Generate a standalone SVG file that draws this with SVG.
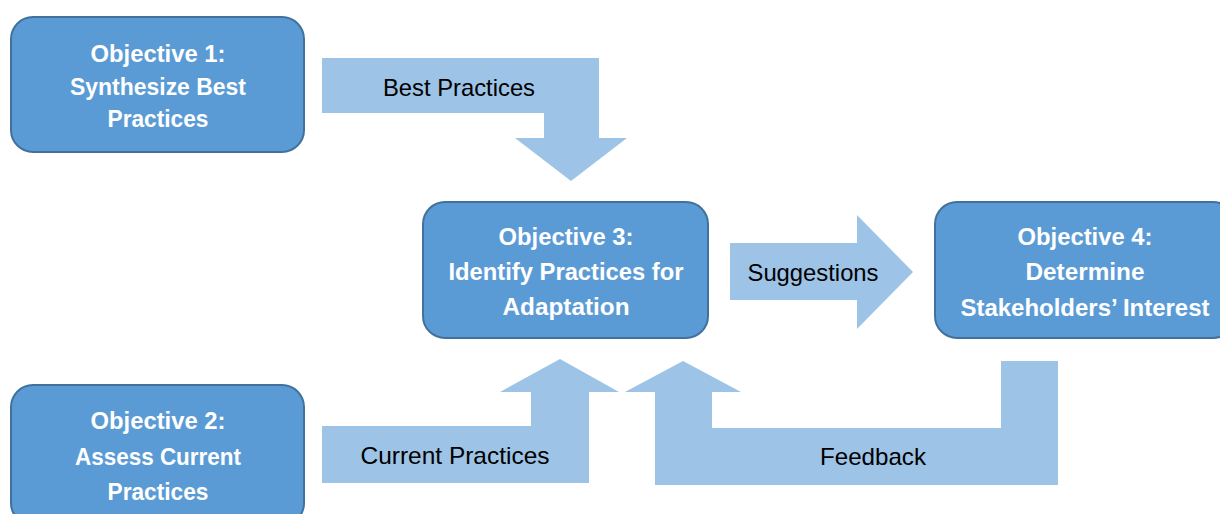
<svg xmlns="http://www.w3.org/2000/svg" width="1220" height="514" viewBox="0 0 1220 514">
<style>
.box{fill:#5b9bd5;stroke:#41719c;stroke-width:2}
.arrow{fill:#9dc3e6}
.bt{font-family:"Liberation Sans",Arial,sans-serif;font-weight:bold;font-size:23px;fill:#ffffff;text-anchor:middle}
.at{font-family:"Liberation Sans",Arial,sans-serif;font-size:24px;fill:#000000;text-anchor:middle}
</style>
<rect width="1220" height="514" fill="#ffffff"/>
<g id="connectors">
  <g id="c-best">
    <polygon class="arrow" points="322,58 599,58 599,138 627,138 571,181 515,138 544,138 544,113 322,113"/>
    <text class="at" x="459" y="96" textLength="152" lengthAdjust="spacingAndGlyphs">Best Practices</text>
  </g>
  <g id="c-current">
    <polygon class="arrow" points="322,426 531,426 531,392 500,392 560,359 619,392 589,392 589,483 322,483"/>
    <text class="at" x="455" y="464" textLength="189" lengthAdjust="spacingAndGlyphs">Current Practices</text>
  </g>
  <g id="c-suggestions">
    <polygon class="arrow" points="730,243 857,243 857,215 913,272 857,329 857,300 730,300"/>
    <text class="at" x="813" y="281" textLength="131" lengthAdjust="spacingAndGlyphs">Suggestions</text>
  </g>
  <g id="c-feedback">
    <polygon class="arrow" points="1001,361 1058,361 1058,485 655,485 655,392 625,392 683,361 741,392 712,392 712,428 1001,428"/>
    <text class="at" x="873" y="465" textLength="106" lengthAdjust="spacingAndGlyphs">Feedback</text>
  </g>
</g>
<g id="obj1">
  <rect class="box" x="11" y="17" width="293" height="135" rx="22"/>
  <text class="bt" x="158" y="62" textLength="135" lengthAdjust="spacingAndGlyphs">Objective 1:</text>
  <text class="bt" x="158" y="95" textLength="176" lengthAdjust="spacingAndGlyphs">Synthesize Best</text>
  <text class="bt" x="158" y="127" textLength="101" lengthAdjust="spacingAndGlyphs">Practices</text>
</g>
<g id="obj2">
  <rect class="box" x="11" y="385" width="293" height="140" rx="22"/>
  <text class="bt" x="158" y="429" textLength="135" lengthAdjust="spacingAndGlyphs">Objective 2:</text>
  <text class="bt" x="158" y="465" textLength="166" lengthAdjust="spacingAndGlyphs">Assess Current</text>
  <text class="bt" x="158" y="500" textLength="101" lengthAdjust="spacingAndGlyphs">Practices</text>
</g>
<g id="obj3">
  <rect class="box" x="423" y="202" width="285" height="136" rx="22"/>
  <text class="bt" x="566" y="245" textLength="135" lengthAdjust="spacingAndGlyphs">Objective 3:</text>
  <text class="bt" x="566" y="280" textLength="235" lengthAdjust="spacingAndGlyphs">Identify Practices for</text>
  <text class="bt" x="566" y="315" textLength="127" lengthAdjust="spacingAndGlyphs">Adaptation</text>
</g>
<g id="obj4">
  <rect class="box" x="935" y="202" width="300" height="136" rx="22"/>
  <text class="bt" x="1085" y="245" textLength="135" lengthAdjust="spacingAndGlyphs">Objective 4:</text>
  <text class="bt" x="1085" y="280" textLength="119" lengthAdjust="spacingAndGlyphs">Determine</text>
  <text class="bt" x="1085" y="316" textLength="249" lengthAdjust="spacingAndGlyphs">Stakeholders’ Interest</text>
</g>
</svg>
